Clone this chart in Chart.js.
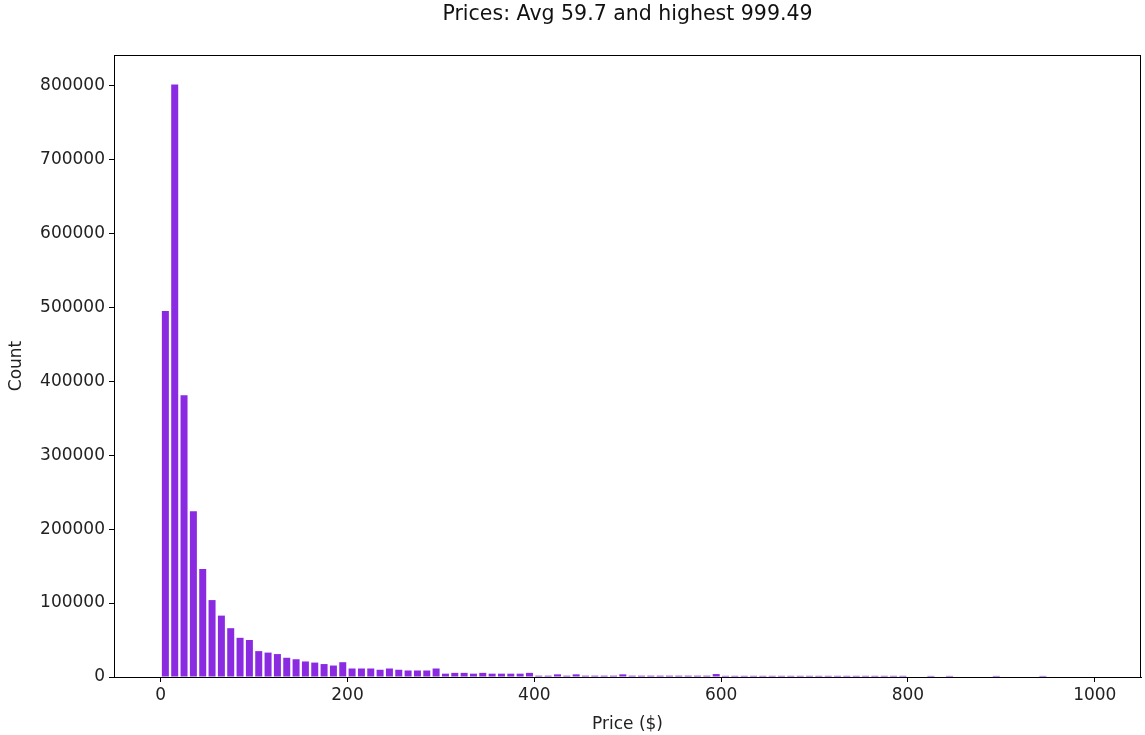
<!DOCTYPE html>
<html>
<head>
<meta charset="utf-8">
<script src="https://cdn.jsdelivr.net/npm/chart.js@4.4.1/dist/chart.umd.min.js"></script>
<style>
  html, body { margin: 0; padding: 0; background: #fff; }
  #wrap { width: 1145px; height: 735px; }
</style>
</head>
<body>
<div id="wrap"><canvas id="histChart"></canvas></div>
<script>
// histogram of prices, 100 bins from 0 to the highest price
const titleText = 'Prices: Avg 59.7 and highest 999.49';
const highestPrice = 999.49;
const binCount = 100;
const counts = [
    495000, 801000, 381000, 224000, 146000, 104000, 83000, 66000, 53000, 50000,
    35000, 33000, 31000, 26000, 24000, 21000, 19500, 17500, 15500, 20000,
    11500, 11500, 11500, 9800, 11500, 9800, 8800, 8800, 8800, 11500,
    4500, 5600, 5600, 4500, 5600, 4500, 4500, 4500, 4500, 5600,
    1800, 1800, 3600, 1800, 3600, 1800, 1800, 1800, 1800, 3600,
    1800, 1800, 1800, 1800, 1800, 1800, 1800, 1800, 1800, 4000,
    1600, 1600, 1600, 1600, 1600, 1600, 1600, 1600, 1600, 1600,
    1600, 1600, 1600, 1600, 1600, 1600, 1600, 1600, 1600, 1600,
    0, 0, 1500, 0, 1500, 0, 0, 0, 0, 1500,
    0, 0, 0, 0, 1500, 0, 0, 0, 0, 0
];
const xTicks = [0, 200, 400, 600, 800, 1000];
const yTicks = [0, 100000, 200000, 300000, 400000, 500000, 600000, 700000, 800000];

const binWidth = highestPrice / binCount;
const points = counts.map(function (c, i) {
    return { x: (i + 0.5) * binWidth, y: c };
});

const fontFamily = '"DejaVu Sans", sans-serif';

const framePlugin = {
    id: 'frame',
    afterDraw: function (chart) {
        const ctx = chart.ctx;
        const a = chart.chartArea;
        ctx.save();
        ctx.strokeStyle = '#000';
        ctx.lineWidth = 1;
        ctx.strokeRect(Math.round(a.left) + 0.5, Math.round(a.top) + 0.5,
            Math.round(a.right - a.left) - 1, Math.round(a.bottom - a.top));
        ctx.fillStyle = '#111';
        ctx.font = '20.5px ' + fontFamily;
        ctx.textAlign = 'center';
        ctx.textBaseline = 'middle';
        ctx.fillText(titleText, (a.left + a.right) / 2, 15);
        ctx.restore();
    }
};

const bar_ctx = document.getElementById('histChart').getContext('2d');
const histChart = new Chart(bar_ctx, {
    type: 'bar',
    data: {
        datasets: [
            {
                data: points,
                backgroundColor: '#8a2be2',
                borderWidth: 0,
                barPercentage: 0.75,
                categoryPercentage: 1.0
            }
        ]
    },
    options: {
        responsive: true,
        maintainAspectRatio: false,
        animation: false,
        layout: { padding: { top: 55, right: 4, left: 0, bottom: 0 } },
        plugins: {
            legend: { display: false },
            tooltip: { enabled: false }
        },
        scales: {
            x: {
                type: 'linear',
                min: -50,
                max: 1049.5,
                offset: false,
                afterBuildTicks: function (scale) {
                    scale.ticks = xTicks.map(function (v) { return { value: v }; });
                },
                afterFit: function (scale) { scale.height = 58; },
                grid: { drawOnChartArea: false, offset: false, tickLength: 5, color: '#000' },
                border: { display: true, color: '#000' },
                ticks: {
                    color: '#222', padding: 3, maxRotation: 0,
                    font: { family: fontFamily, size: 17 },
                    callback: function (v) { return String(v); }
                },
                title: {
                    display: true, text: 'Price ($)', color: '#222',
                    padding: { top: 0, bottom: 0 },
                    font: { family: fontFamily, size: 17 }
                }
            },
            y: {
                min: 0,
                max: 841000,
                afterBuildTicks: function (scale) {
                    scale.ticks = yTicks.map(function (v) { return { value: v }; });
                },
                afterFit: function (scale) { scale.width = 114; },
                grid: { drawOnChartArea: false, tickLength: 5, color: '#000' },
                border: { display: true, color: '#000' },
                ticks: {
                    color: '#222', padding: 4,
                    font: { family: fontFamily, size: 17 },
                    callback: function (v) { return String(v); }
                },
                title: {
                    display: true, text: 'Count', color: '#222',
                    padding: { top: 6, bottom: 4 },
                    font: { family: fontFamily, size: 17 }
                }
            }
        }
    },
    plugins: [framePlugin]
});
</script>
</body>
</html>
